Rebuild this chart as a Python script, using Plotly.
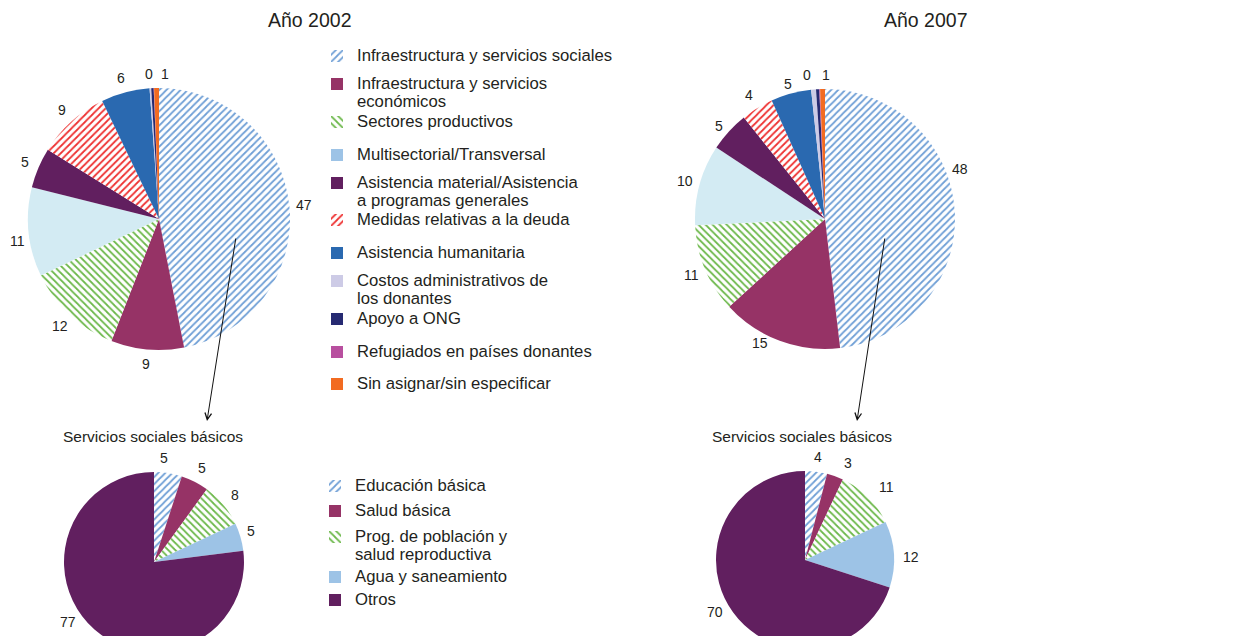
import math
import plotly.graph_objects as go

# Main pies: sector shares (%)
sectors = [
    "Infraestructura y servicios sociales",
    "Infraestructura y servicios<br>económicos",
    "Sectores productivos",
    "Multisectorial/Transversal",
    "Asistencia material/Asistencia<br>a programas generales",
    "Medidas relativas a la deuda",
    "Asistencia humanitaria",
    "Costos administrativos de<br>los donantes",
    "Apoyo a ONG",
    "Refugiados en países donantes",
    "Sin asignar/sin especificar",
]
values_2002 = [47, 9, 12, 11, 5, 9, 6, 0.2, 0.3, 0.05, 0.6]
values_2007 = [48, 15, 11, 10, 5, 4, 5, 0.6, 0.4, 0.1, 0.6]
labelled_sectors = [0, 1, 2, 3, 4, 5, 6, 8, 10]  # slivers 7 and 9 carry no value label

# Basic social services breakdown (%)
basic = [
    "Educación básica",
    "Salud básica",
    "Prog. de población y<br>salud reproductiva",
    "Agua y saneamiento",
    "Otros",
]
basic_2002 = [5, 5, 8, 5, 77]
basic_2007 = [4, 3, 11, 12, 70]

sector_colors = ["#6f9fd6", "#963366", "#6cb84a", "#d3ebf3", "#611f5f", "#ee3030",
                 "#2a69b0", "#cdcbe6", "#262a72", "#b84f9f", "#f26b21"]
sector_legend_colors = sector_colors[:3] + ["#9dc3e6"] + sector_colors[4:]
sector_hatch = ["/", "", "\\", "", "", "/", "", "", "", "", ""]
basic_colors = ["#6f9fd6", "#963366", "#6cb84a", "#9dc3e6", "#611f5f"]
basic_hatch = ["/", "", "\\", "", ""]

# the page body adds an 8px margin, so the figure is drawn 8px in from the corner
OFF = 8
W, H = 1251, 650
FONT = "Liberation Sans, Arial, sans-serif"
TEXT = "#231f20"


def px(x):
    return (x - OFF) / W


def py(y):
    return 1 - (y - OFF) / H


def pattern(colors, hatch):
    return dict(
        shape=hatch,
        fgcolor=colors,
        bgcolor=["white" if h else c for c, h in zip(colors, hatch)],
        size=5,
        solidity=0.35,
    )


fig = go.Figure()
annotations = []


def add_pie(vals, colors, hatch, cx, cy, r, shown=None, nudge=None, floor=None):
    fig.add_trace(go.Pie(
        values=vals,
        labels=[f"s{i}" for i in range(len(vals))],
        textinfo="none",
        sort=False,
        direction="clockwise",
        marker=dict(colors=colors, pattern=pattern(colors, hatch), line=dict(width=0)),
        domain=dict(x=[px(cx - r), px(cx + r)], y=[py(cy + r), py(cy - r)]),
        showlegend=False,
        hoverinfo="skip",
    ))
    # value labels just outside each slice, at its mid angle
    shown = range(len(vals)) if shown is None else shown
    nudge = nudge or {}
    total = sum(vals)
    cum = 0
    d = r + 15
    for i, v in enumerate(vals):
        mid = (cum + v / 2) / total * 2 * math.pi
        cum += v
        if i not in shown:
            continue
        x = cx + d * math.sin(mid)
        y = cy - d * math.cos(mid)
        if floor is not None and y > floor:
            y = floor
            x = cx + math.copysign(math.sqrt(d * d - (floor - cy) ** 2), math.sin(mid))
        dx, dy = nudge.get(i, (0, 0))
        annotations.append(dict(
            text=str(round(v)), x=px(x + dx), y=py(y + dy),
            font=dict(size=14, color=TEXT),
        ))


legend_count = [0]
LINE = 18      # spacing of wrapped legend lines
LEG_SIZE = 16.7


def add_legend(names, colors, hatch, x_text, ys):
    # one tiny pie per entry so each legend entry can be placed exactly
    for name, col, h, y in zip(names, colors, hatch, ys):
        legend_count[0] += 1
        k = legend_count[0]
        lid = "legend" if k == 1 else f"legend{k}"
        lines = name.split("<br>")
        label = "<br>".join(f"<span style='font-size:{LEG_SIZE}px'>{s}</span>" for s in lines)
        fig.add_trace(go.Pie(
            values=[1], labels=[label],
            marker=dict(colors=[col], pattern=pattern([col], [h]), line=dict(width=0)),
            textinfo="none", hoverinfo="skip", sort=False,
            domain=dict(x=[0, 0.0001], y=[0, 0.0001]),
            legend=lid, showlegend=True,
        ))
        fig.update_layout({lid: dict(
            x=px(x_text - 40), y=py(y + (len(lines) - 1) * LINE / 2),
            xanchor="left", yanchor="middle", valign="top",
            bgcolor="rgba(0,0,0,0)", borderwidth=0,
            font=dict(size=LINE / 1.3, color=TEXT, family=FONT),
            itemclick=False, itemdoubleclick=False,
        )})


add_pie(values_2002, sector_colors, sector_hatch, 159, 219, 131,
        labelled_sectors, nudge={3: (4, 7), 8: (-3, 1), 10: (9, 1)})
add_pie(values_2007, sector_colors, sector_hatch, 825, 219, 130,
        labelled_sectors,
        nudge={0: (-10, -42), 1: (-14, -12), 4: (1, 5), 6: (1, 5), 8: (-10, 1), 10: (4, 1)})
add_pie(basic_2002, basic_colors, basic_hatch, 154, 562, 90,
        nudge={0: (-6, 0), 3: (-4, -2)}, floor=622)
add_pie(basic_2007, basic_colors, basic_hatch, 805, 560, 89,
        nudge={1: (8, 1), 2: (8, 1), 3: (2, 4)}, floor=612)

top_rows = [56, 84, 122, 155, 183, 220, 253, 281, 319, 352, 384]
add_legend(sectors, sector_legend_colors, sector_hatch, 357, top_rows)
add_legend(sectors, sector_legend_colors, sector_hatch, 1000, top_rows)
add_legend(basic, basic_colors, basic_hatch, 355, [486, 511, 537, 577, 600])
add_legend(basic, basic_colors, basic_hatch, 1003, [489, 515, 541, 581, 602])

annotations += [
    dict(text="Año 2002", x=px(310), y=py(20), font=dict(size=19.5, color=TEXT)),
    dict(text="Año 2007", x=px(926), y=py(20), font=dict(size=19.5, color=TEXT)),
    dict(text="Servicios sociales básicos", x=px(153), y=py(436),
         font=dict(size=15.5, color=TEXT)),
    dict(text="Servicios sociales básicos", x=px(802), y=py(436),
         font=dict(size=15.5, color=TEXT)),
]
for a in annotations:
    a.update(xref="paper", yref="paper", showarrow=False, xanchor="center", yanchor="middle")
    a["font"]["family"] = FONT

# arrows from the social infrastructure slice down to the breakdown pies
for tip_x, tail_x in [(207, 236), (857, 885)]:
    annotations.append(dict(
        x=px(tip_x), y=py(421), xref="paper", yref="paper", text="",
        showarrow=True, ax=tail_x - tip_x, ay=237 - 421,
        arrowhead=5, arrowsize=1.3, arrowwidth=1, arrowcolor="#111111", standoff=0,
    ))

fig.update_layout(
    width=W, height=H,
    margin=dict(l=0, r=0, t=0, b=0),
    paper_bgcolor="white",
    plot_bgcolor="white",
    annotations=annotations,
    font=dict(family=FONT),
)

fig.write_html("out.html")
